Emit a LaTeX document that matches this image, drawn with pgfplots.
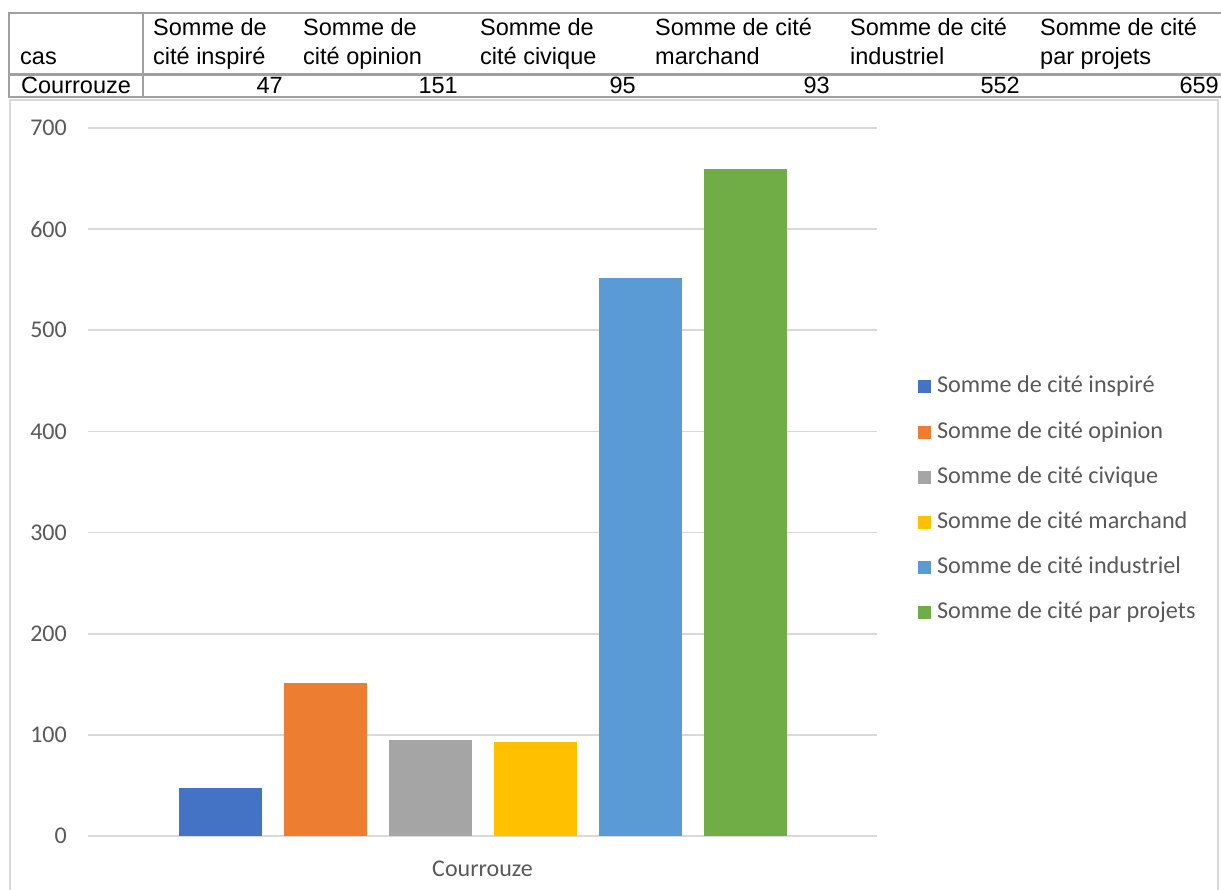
\documentclass[border=0pt]{standalone}
\usepackage{fontspec}
\setmainfont{Liberation Sans}
\newfontfamily\calibri{Carlito}
\usepackage{pgfplots}
\pgfplotsset{compat=1.18}
\definecolor{c1}{HTML}{4472C4}
\definecolor{c2}{HTML}{ED7D31}
\definecolor{c3}{HTML}{A5A5A5}
\definecolor{c4}{HTML}{FFC000}
\definecolor{c5}{HTML}{5B9BD5}
\definecolor{c6}{HTML}{70AD47}
\definecolor{gridc}{HTML}{D9D9D9}
\definecolor{tickc}{HTML}{595959}
\definecolor{tline}{HTML}{A0A0A0}
\newcommand\tf{\fontsize{23.5bp}{27bp}\selectfont}
\newcommand\cf{\calibri\fontsize{24bp}{28bp}\selectfont}
\newcommand\lf{\calibri\fontsize{24.2bp}{28bp}\selectfont}
\begin{document}
\begin{tikzpicture}
\useasboundingbox (0,0) rectangle (1221bp,-890bp);
% chart area border
\draw[gridc, line width=2bp] (10bp,-900bp) -- (10bp,-100bp) -- (1218bp,-100bp) -- (1218bp,-900bp);
% table grid
\draw[tline, line width=2bp] (9bp,-13bp) -- (1221bp,-13bp);
\draw[tline, line width=3bp] (9bp,-74bp) -- (1221bp,-74bp);
\draw[tline, line width=2bp] (9bp,-97bp) -- (1221bp,-97bp);
\draw[tline, line width=2bp] (9bp,-12bp) -- (9bp,-98bp);
\draw[tline, line width=2bp] (143bp,-12bp) -- (143bp,-98bp);
% table header
\tf
\node[anchor=base west, inner sep=0pt] at (20bp,-64bp) {cas};
\foreach \x/\a/\b in {153/{Somme de}/{cité inspiré}, 303/{Somme de}/{cité opinion}, 480/{Somme de}/{cité civique}, 655/{Somme de cité}/{marchand}, 850/{Somme de cité}/{industriel}, 1040/{Somme de cité}/{par projets}}{
  \node[anchor=base west, inner sep=0pt] at (\x bp,-35bp) {\a};
  \node[anchor=base west, inner sep=0pt] at (\x bp,-64bp) {\b};
}
\node[anchor=base west, inner sep=0pt] at (21bp,-93bp) {Courrouze};
\foreach \x/\v in {283/47, 458/151, 636/95, 830/93, 1020/552, 1219/659}{
  \node[anchor=base east, inner sep=0pt] at (\x bp,-93bp) {\v};
}
\begin{axis}[
  at={(88bp,-836bp)}, anchor=south west,
  scale only axis, width=789bp, height=708bp,
  ymin=0, ymax=700, xmin=-1, xmax=1,
  ytick={0,100,...,700}, xtick={0}, xticklabels={Courrouze},
  ymajorgrids, grid style={draw=gridc, line width=1.8bp},
  axis line style={draw=none}, major tick length=0pt,
  ybar=22bp, bar width=83bp,
  /pgf/number format/assume math mode=true,
  yticklabel style={font=\cf, text=tickc, anchor=east, inner sep=0pt, xshift=-21bp},
  xticklabel style={font=\cf, text=tickc, anchor=base, inner sep=0pt, yshift=-40bp},
  legend cell align=left,
  legend image code/.code={\fill[#1] (0bp,-6.5bp) rectangle (13bp,6.5bp);},
  legend style={at={(1.052,0.4746)}, anchor=west, draw=none, fill=none, inner sep=0pt, outer sep=0pt,
    font=\lf, text=tickc, nodes={inner sep=0pt, text height=17bp, text depth=5bp},
    row sep=23.2bp, column sep=6bp},
]
\addplot[fill=c1, draw=none] coordinates {(0,47)};
\addplot[fill=c2, draw=none] coordinates {(0,151)};
\addplot[fill=c3, draw=none] coordinates {(0,95)};
\addplot[fill=c4, draw=none] coordinates {(0,93)};
\addplot[fill=c5, draw=none] coordinates {(0,552)};
\addplot[fill=c6, draw=none] coordinates {(0,659)};
\legend{Somme de cité inspiré, Somme de cité opinion, Somme de cité civique, Somme de cité marchand, Somme de cité industriel, Somme de cité par projets}
\end{axis}
\end{tikzpicture}
\end{document}
